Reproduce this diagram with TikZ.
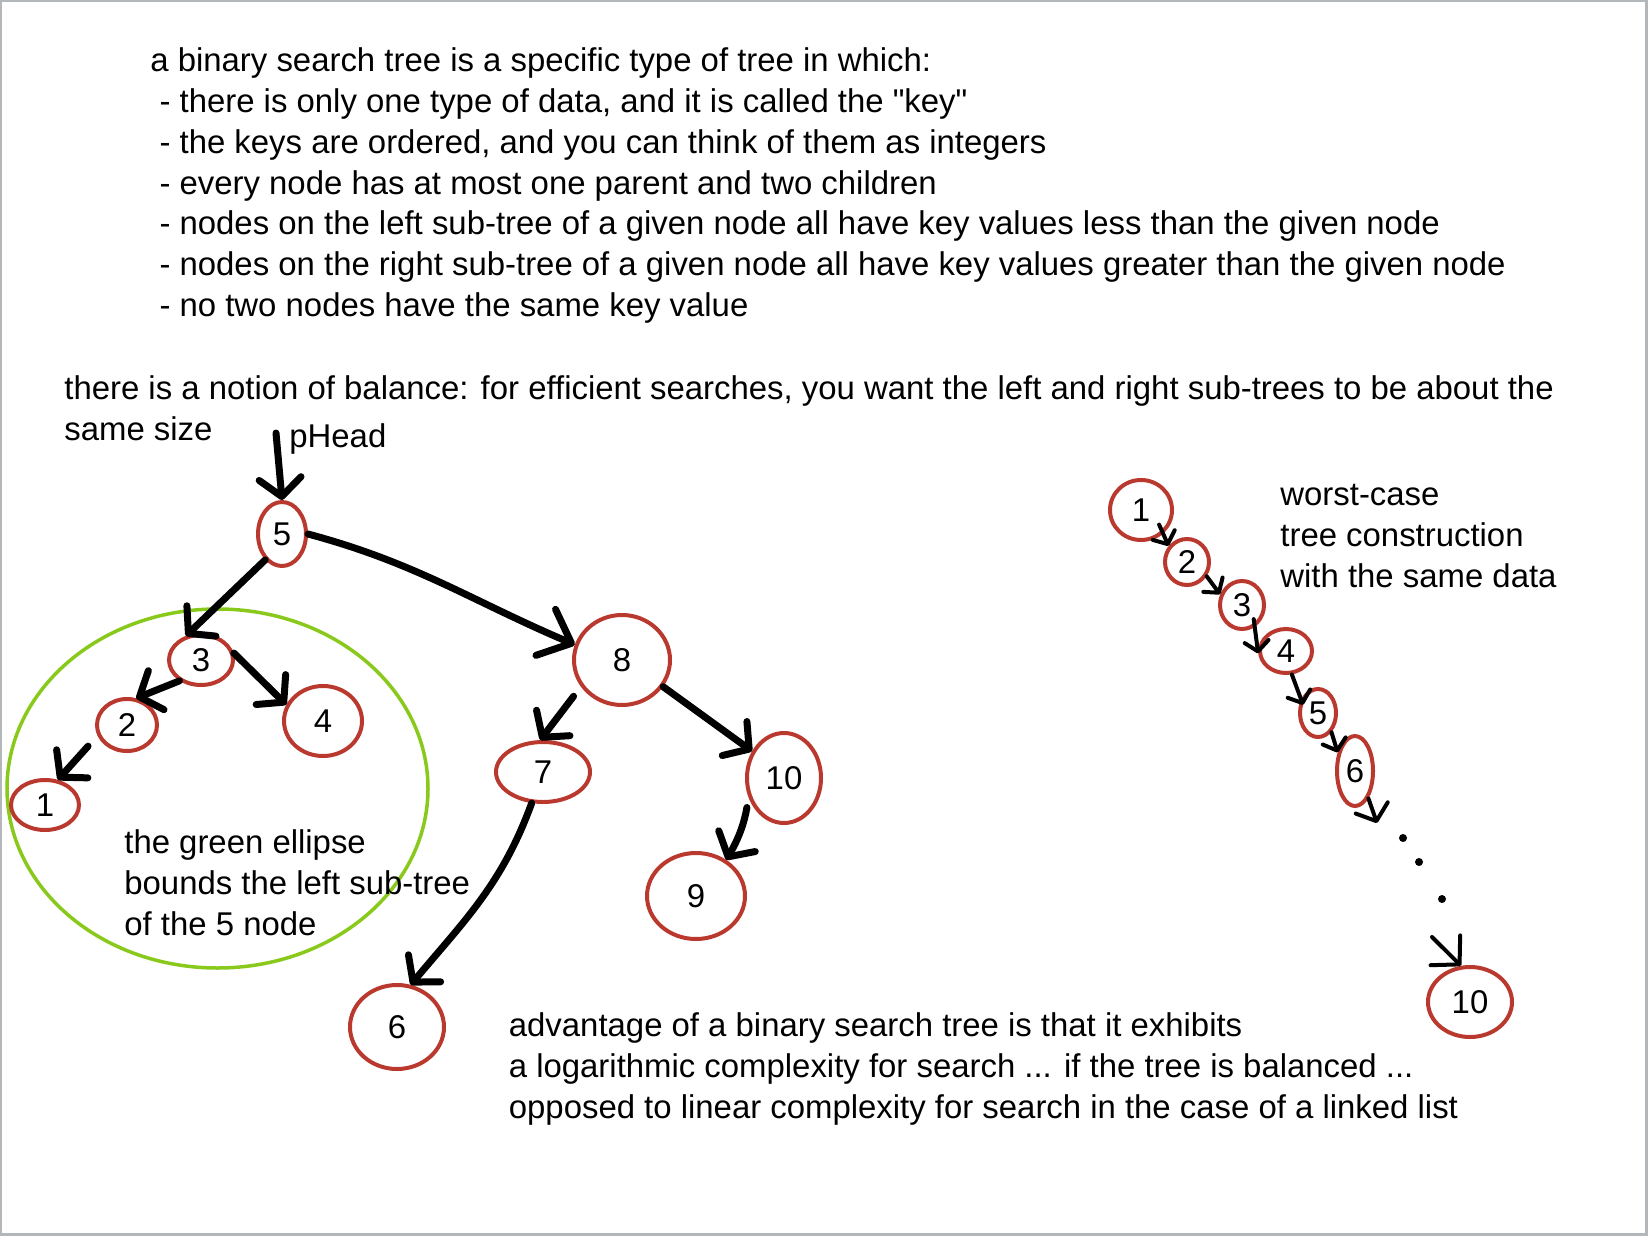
\documentclass[tikz,border=0pt]{standalone}
\usepackage{fontspec}
\setmainfont{Liberation Sans}[Ligatures=TeXOff]
\usepackage{tikz}
\usetikzlibrary{shapes, arrows.meta, positioning, calc}

\definecolor{nodered}{RGB}{186,57,47}
\definecolor{subgreen}{RGB}{137,201,28}
\definecolor{framegray}{RGB}{180,183,186}

\begin{document}
\begin{tikzpicture}[x=0.5pt, y=-0.5pt,
	every node/.style={font=\fontsize{16.45}{20.4}\selectfont, inner sep=0pt},
	txt/.style={anchor=base west, align=left},
	tnode/.style={draw=nodered, ellipse, line width=2pt},
	tarrow/.style={line width=3.5pt, line cap=round, -{Straight Barb[length=9pt, width=21pt, round]}},
	carrow/.style={line width=2pt, line cap=round, -{Straight Barb[length=5pt, width=12pt, round]}}]
	\useasboundingbox (0,0) rectangle (1648,1236);
	\draw[framegray, line width=1.25pt] (1.2,1.2) rectangle (1646.5,1234.5);

	% texts (placed at the baseline of their last line)
	\node[txt] (intro) at (150,316.5) {a binary search tree is a specific type of tree in which:\\
		\ - there is only one type of data, and it is called the "key"\\
		\ - the keys are ordered, and you can think of them as integers\\
		\ - every node has at most one parent and two children\\
		\ - nodes on the left sub-tree of a given node all have key values less than the given node\\
		\ - nodes on the right sub-tree of a given node all have key values greater than the given node\\
		\ - no two nodes have the same key value};
	\node[txt] (balance) at (64,440) {there is a notion of balance: for efficient searches, you want the left and right sub-trees to be about the\\same size};
	\node[txt] (phead) at (289,447) {pHead};
	\node[txt] (worst) at (1280,587.5) {worst-case\\tree construction\\with the same data};
	\node[txt] (adv) at (508.5,1118.3) {advantage of a binary search tree is that it exhibits\\a logarithmic complexity for search ... if the tree is balanced ...\\opposed to linear complexity for search in the case of a linked list};

	% balanced tree
	\node[draw=subgreen, ellipse, line width=1.75pt, minimum width=210.5pt, minimum height=179.5pt] (leftsub) at (217.5,788.5) {};
	\node[txt] (subtxt) at (124,935) {the green ellipse\\bounds the left sub-tree\\of the 5 node};
	\node[tnode, minimum width=24pt, minimum height=32pt] (t5) at (282,534) {5};
	\node[tnode, minimum width=32pt, minimum height=25pt] (t3) at (201,660) {3};
	\node[tnode, minimum width=30pt, minimum height=26pt] (t2) at (127,725) {2};
	\node[tnode, minimum width=39pt, minimum height=35pt] (t4) at (323,721) {4};
	\node[tnode, minimum width=34pt, minimum height=25pt] (t1) at (45,805) {1};
	\node[tnode, minimum width=48pt, minimum height=45pt] (t8) at (622,660) {8};
	\node[tnode, minimum width=47pt, minimum height=30pt] (t7) at (543,772) {7};
	\node[tnode, minimum width=37pt, minimum height=45pt] (t10) at (784,778) {10};
	\node[tnode, minimum width=49pt, minimum height=43pt] (t9) at (696,896) {9};
	\node[tnode, minimum width=47pt, minimum height=42pt] (t6) at (397,1027) {6};

	\coordinate (headtop) at (276,433);
	\draw[tarrow] (headtop) -- (t5.north);
	\draw[tarrow] (t5.-123) -- (t3.122);
	\draw[tarrow] (t3.-136) -- (t2.71);
	\draw[tarrow] (t3.12) -- (t4.156);
	\draw[tarrow, shorten <=7pt] (t2.-160) -- (t1.63);
	\draw[tarrow, -{Straight Barb[length=14pt, width=25pt, round]}] (t5.east) to[out=-15, in=157] (t8.162);
	\draw[tarrow, shorten <=6pt] (t8.-147) -- (t7.95);
	\draw[tarrow] (t8.-33) -- (t10.140);
	\draw[tarrow, shorten <=5pt] (t10.-151) to[bend left=10] (t9.50);
	\draw[tarrow] (t7.-110) to[out=-110, in=50] (t6.72);

	% worst-case chain
	\node[tnode, minimum width=31pt, minimum height=30pt] (c1) at (1141,510) {1};
	\node[tnode, minimum width=22pt, minimum height=23pt] (c2) at (1187,562) {2};
	\node[tnode, minimum width=22pt, minimum height=24pt] (c3) at (1242,605) {3};
	\node[tnode, minimum width=26pt, minimum height=22pt] (c4) at (1286,651) {4};
	\node[tnode, minimum width=18pt, minimum height=24pt] (c5) at (1318,713) {5};
	\node[tnode, minimum width=18pt, minimum height=35pt] (c6) at (1355,771) {6};
	\node[tnode, minimum width=42pt, minimum height=35pt] (c10) at (1470,1002) {10};
	\coordinate (gapa) at (1377,823);
	\coordinate (gapb) at (1432,937);

	\draw[carrow, shorten <=-5pt] (c1.-47) -- (c2.139);
	\draw[carrow] (c2.-36) -- (c3.154);
	\draw[carrow, shorten <=-4pt] (c3.-60) -- (c4.185);
	\draw[carrow, shorten >=-3pt] (c4.-76) -- (c5.141);
	\draw[carrow] (c5.-55) -- (c6.133);
	\draw[carrow, -{Straight Barb[length=7pt, width=17pt, round]}] (c6.-64) -- (gapa);
	\foreach \p in {(1403,838), (1419,862), (1442,899)}
		\fill \p circle (2pt);
	\draw[carrow, -{Straight Barb[length=10pt, width=21pt, round]}] (gapb) -- (c10.104);
\end{tikzpicture}
\end{document}
